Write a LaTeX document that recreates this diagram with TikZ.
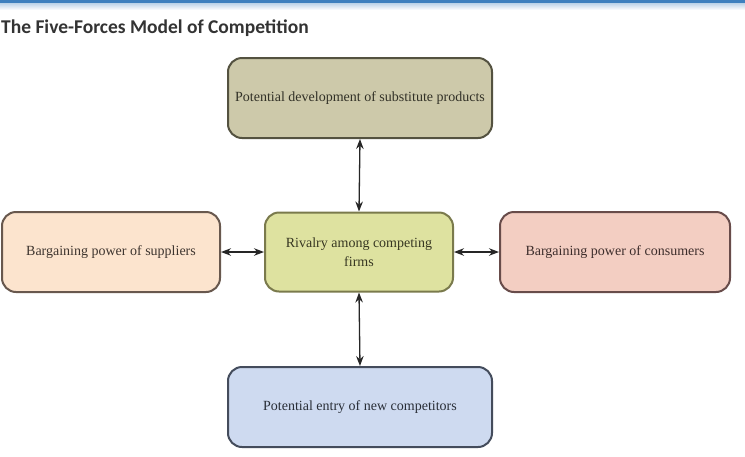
\documentclass[tikz,border=0pt]{standalone}
\usepackage{fontspec}
\setmainfont{Liberation Serif}
\newfontfamily\headfont{Carlito}
\usetikzlibrary{arrows.meta,positioning}
\definecolor{bandblue}{RGB}{62,128,190}
\definecolor{subsfill}{RGB}{205,201,170}
\definecolor{subsline}{RGB}{84,82,64}
\definecolor{supfill}{RGB}{252,228,206}
\definecolor{supline}{RGB}{104,88,78}
\definecolor{rivfill}{RGB}{222,226,160}
\definecolor{rivline}{RGB}{122,122,76}
\definecolor{conFill}{RGB}{243,206,194}
\definecolor{conline}{RGB}{104,76,74}
\definecolor{entfill}{RGB}{206,218,240}
\definecolor{entline}{RGB}{68,76,92}

\begin{document}
\begin{tikzpicture}[x=1pt,y=-1pt,
    forcebox/.style={rounded corners=14pt, line width=2pt, inner sep=0pt,
      minimum height=80pt, font=\fontsize{14}{19}\selectfont, align=center},
    forcearrow/.style={line width=1.3pt, black!85,
      {Stealth[length=10pt,width=7.5pt]}-{Stealth[length=10pt,width=7.5pt]}}]
  \useasboundingbox (0,0) rectangle (745,456);
  \fill[white] (0,0) rectangle (745,456);
  \shade[top color=bandblue!35, bottom color=white] (0,3) rectangle (745,10);
  \fill[bandblue] (0,0) rectangle (745,3);

  \node[anchor=base west, inner sep=0pt, text=black!80,
    font=\headfont\bfseries\fontsize{19.5}{21}\selectfont] (title) at (1,33)
    {The Five-Forces Model of Competition};

  \node[forcebox, fill=subsfill, draw=subsline, text=subsline!60!black,
    minimum width=264pt] (subs) at (360,98)
    {Potential development of substitute products};
  \node[forcebox, fill=rivfill, draw=rivline, text=rivline!45!black,
    minimum width=188pt, minimum height=79pt] (riv) at (359,252)
    {Rivalry among competing\\firms};
  \node[forcebox, fill=supfill, draw=supline, text=supline!60!black,
    minimum width=218pt] (sup) at (111,252)
    {Bargaining power of suppliers};
  \node[forcebox, fill=conFill, draw=conline, text=conline!60!black,
    minimum width=230pt] (con) at (615,252)
    {Bargaining power of consumers};
  \node[forcebox, fill=entfill, draw=entline, text=entline!60!black,
    minimum width=264pt] (ent) at (360,407)
    {Potential entry of new competitors};

  \draw[forcearrow] (subs.south) -- (riv.north);
  \draw[forcearrow] (riv.south) -- (ent.north);
  \draw[forcearrow] (sup.east) -- (riv.west);
  \draw[forcearrow] (riv.east) -- (con.west);
\end{tikzpicture}
\end{document}
